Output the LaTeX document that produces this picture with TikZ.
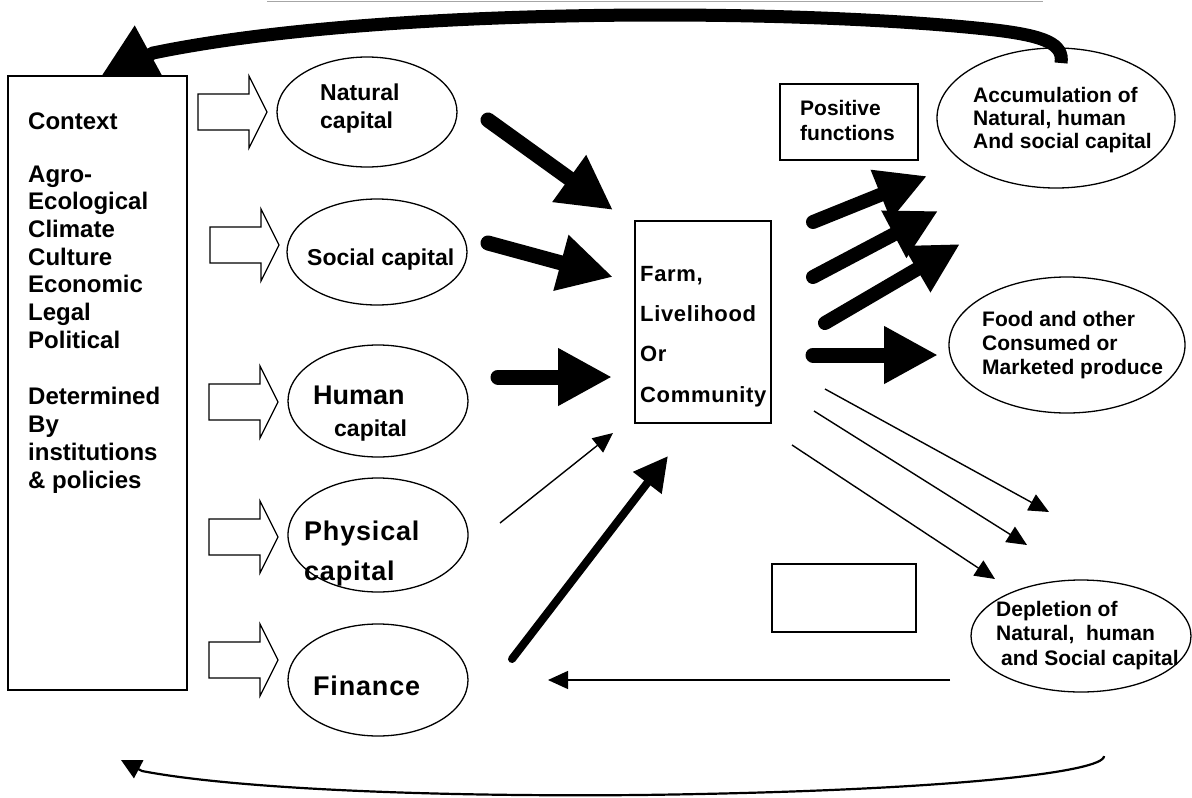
\documentclass[tikz,border=0pt]{standalone}
\usepackage{fontspec}
\setmainfont{Liberation Sans}
\newfontfamily\widefont[LetterSpace=3]{Liberation Sans}
\usetikzlibrary{arrows.meta,shapes.geometric}

\tikzset{
  outline/.style={draw=black, line width=1.3pt},
  capital/.style={outline, ellipse, inner sep=0pt, minimum width=180pt, minimum height=112pt},
  boxed/.style={outline, rectangle, inner sep=0pt},
  % multi-line labels are placed by the baseline of their last line
  txt/.style={anchor=base west, align=left, inner sep=0pt, font=\bfseries\fontsize{21}{24}\selectfont},
  bigflow/.style={line width=15pt, line cap=round, -{Triangle[length=54pt,width=54pt]}},
  outflow/.style={line width=14pt, line cap=round, -{Triangle[length=50pt,width=50pt]}},
  thinflow/.style={line width=1.4pt, -{Triangle[length=20pt,width=18pt]}},
  hollowarrow/.pic={\draw[line width=1.2pt, fill=white] (0,-18) -- (51,-18) -- (51,-36) -- (69,0) -- (51,36) -- (51,18) -- (0,18) -- cycle;}
}

\begin{document}
\begin{tikzpicture}[x=1pt, y=-1pt]
\useasboundingbox (0,0) rectangle (1192,798);

% faint rule across the top
\draw[line width=1.5pt, draw=black!35] (267,1.5) -- (1043,1.5);

% capital stocks
\node[capital, minimum height=110pt] (nat) at (367,112) {};
\node[capital, minimum height=106pt] (soc) at (377,252) {};
\node[capital] (hum) at (378,401) {};
\node[capital, minimum height=114pt] (phy) at (378,535) {};
\node[capital] (fin) at (378,680) {};

% outcomes
\node[outline, ellipse, inner sep=0pt, minimum width=238pt, minimum height=140pt] (acc) at (1056,118) {};
\node[outline, ellipse, inner sep=0pt, minimum width=236pt, minimum height=136pt] (food) at (1067,345) {};
\node[outline, ellipse, inner sep=0pt, minimum width=220pt, minimum height=112pt] (dep) at (1081,636) {};

% boxes
\node[boxed, minimum width=136pt, minimum height=202pt] (farm) at (703,322) {};
\node[boxed, minimum width=138pt, minimum height=76pt] (pos) at (849,122) {};
\node[boxed, minimum width=144pt, minimum height=68pt] (blank) at (844,598) {};

% feedback from accumulation back to the context
\coordinate (accTop) at (1061,63);
\coordinate (ctxTop) at (96,84);
\draw[line width=13pt, -{Triangle[length=62pt,width=62pt]}]
  (accTop) .. controls (1064,44) and (1045,36) .. (995,30)
  .. controls (800,8) and (380,6) .. (153,53) -- (ctxTop);

% context box
\node[boxed, fill=white, minimum width=179pt, minimum height=614pt] (ctx) at (97.5,383) {};

% context flows into each capital
\pic at (198,112) {hollowarrow};
\pic at (210,245) {hollowarrow};
\pic at (209,402) {hollowarrow};
\pic at (209,537) {hollowarrow};
\pic at (209,660) {hollowarrow};

% flows into the farm
\coordinate (natOut) at (488,120);  \coordinate (farmA) at (613,210);
\coordinate (socOut) at (488,243);  \coordinate (farmB) at (613,277);
\coordinate (humOut) at (498,377);  \coordinate (farmC) at (612,377);
\coordinate (phyOut) at (500,523);  \coordinate (farmD) at (613,433);
\coordinate (finOut) at (512,659);  \coordinate (farmE) at (668,456);
\draw[bigflow] (natOut) -- (farmA);
\draw[bigflow] (socOut) -- (farmB);
\draw[bigflow] (humOut) -- (farmC);
\draw[thinflow] (phyOut) -- (farmD);
\draw[line width=8pt, line cap=round, -{Triangle[length=34pt,width=34pt]}] (finOut) -- (farmE);

% positive functions
\coordinate (posA) at (813,222);  \coordinate (posAend) at (927,176);
\coordinate (posB) at (813,277);  \coordinate (posBend) at (938,211);
\coordinate (posC) at (825,323);  \coordinate (posCend) at (960,244);
\coordinate (foodIn) at (813,355); \coordinate (foodEnd) at (938,355);
\draw[outflow] (posA) -- (posAend);
\draw[outflow] (posB) -- (posBend);
\draw[outflow] (posC) -- (posCend);
\draw[bigflow] (foodIn) -- (foodEnd);

% depletion flows
\coordinate (negA) at (825,389); \coordinate (negAend) at (1049,512);
\coordinate (negB) at (814,411); \coordinate (negBend) at (1027,545);
\coordinate (negC) at (792,445); \coordinate (negCend) at (995,579);
\draw[thinflow] (negA) -- (negAend);
\draw[thinflow] (negB) -- (negBend);
\draw[thinflow] (negC) -- (negCend);

% depletion drains finance
\coordinate (depOut) at (950,680); \coordinate (finIn) at (548,680);
\draw[thinflow] (depOut) -- (finIn);

% long feedback along the bottom
\coordinate (depBot) at (1104,756);
\coordinate (ctxBot) at (121,760);
\draw[line width=2.2pt, -{Triangle[length=20pt,width=20pt]}]
  (depBot) .. controls (1105,772) and (950,791) .. (640,795)
  .. controls (420,797) and (230,788) .. (142,771) -- (ctxBot);

% texts
\node[txt, font=\bfseries\fontsize{24}{27.7}\selectfont] (ctxT) at (28,488)
  {Context\\[25pt]Agro-\\Ecological\\Climate\\Culture\\Economic\\Legal\\Political\\[29pt]Determined\\By\\institutions\\\& policies};
\node[txt, font=\bfseries\fontsize{23}{28}\selectfont] (natT) at (320,128) {Natural\\capital};
\node[txt, font=\bfseries\fontsize{23}{28}\selectfont] (socT) at (307,265) {Social capital};
\node[txt, font=\bfseries\fontsize{27}{32}\selectfont] (humT) at (313,436)
  {Human\\\hspace*{21pt}{\fontsize{23}{32}\selectfont capital}};
\node[txt, font=\widefont\bfseries\fontsize{27}{40}\selectfont] (phyT) at (304,580) {Physical\\capital};
\node[txt, font=\widefont\bfseries\fontsize{27}{40}\selectfont] (finT) at (313,695) {Finance};
\node[txt, font=\widefont\bfseries\fontsize{22}{40.3}\selectfont] (farmT) at (640,402) {Farm,\\Livelihood\\Or\\Community};
\node[txt, font=\bfseries\fontsize{21}{25}\selectfont] (posT) at (800,140) {Positive\\functions};
\node[txt, font=\bfseries\fontsize{21}{23}\selectfont] (accT) at (973,148) {Accumulation of\\Natural, human\\And social capital};
\node[txt, font=\bfseries\fontsize{21}{24}\selectfont] (foodT) at (982,374) {Food and other\\Consumed or\\Marketed produce};
\node[txt, font=\bfseries\fontsize{21}{24.5}\selectfont] (depT) at (996,665) {Depletion of\\Natural,~ human\\\hspace*{5pt}and Social capital};
\end{tikzpicture}
\end{document}
